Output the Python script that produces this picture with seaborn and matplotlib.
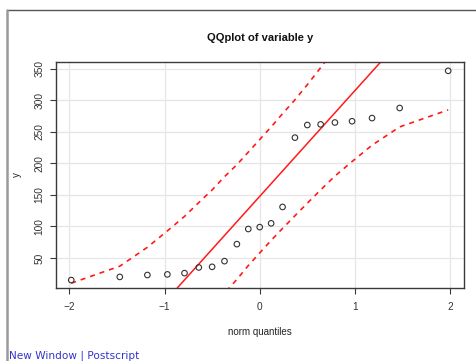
import matplotlib
matplotlib.use("Agg")
import matplotlib.pyplot as plt
from matplotlib.lines import Line2D
import seaborn as sns
import pandas as pd

# ---- data ----
theo_q = [-1.98, -1.47, -1.18, -0.97, -0.79, -0.64, -0.50, -0.37, -0.24, -0.12, 0.0,
          0.12, 0.24, 0.37, 0.50, 0.64, 0.79, 0.97, 1.18, 1.47, 1.98]
sample_y = [15, 20, 23, 24, 26, 35, 36, 45, 72, 96, 99,
            105, 131, 241, 261, 262, 265, 267, 272, 288, 347]
env_upper = [10, 37, 67, 93, 116, 138, 158, 179, 198, 218, 238,
             258, 279, 301, 325, 352, 382, 417, 463, 529, 675]
env_lower = [-380, -234, -167, -122, -86, -56, -30, -6, 16, 38, 58,
             78, 97, 117, 137, 158, 180, 203, 229, 258, 285]
line_intercept = 147.8
line_slope = 167.8
x_ticks = [-2, -1, 0, 1, 2]
y_ticks = [50, 100, 150, 200, 250, 300, 350]
title = "QQplot of variable y"
x_label = "norm quantiles"
y_label = "y"

df = pd.DataFrame({"q": theo_q, "y": sample_y, "up": env_upper, "lo": env_lower})

sns.set_style("white")
plt.rcParams["font.family"] = ["Liberation Sans", "DejaVu Sans"]

W, H = 476, 361
fig = plt.figure(figsize=(W / 100, H / 100), dpi=100)
ax = fig.add_axes([56 / W, 1 - 288 / H, (464 - 56) / W, (288 - 62) / H])

# grid
for xv in x_ticks:
    ax.axvline(xv, color="#e6e6e6", lw=0.9, zorder=0)
for yv in y_ticks:
    ax.axhline(yv, color="#e6e6e6", lw=0.9, zorder=0)

# envelope
sns.lineplot(data=df, x="q", y="up", ax=ax, color="#ff1a1a", lw=1.2,
             linestyle=(0, (3, 3)), sort=False, estimator=None, zorder=2)
sns.lineplot(data=df, x="q", y="lo", ax=ax, color="#ff1a1a", lw=1.2,
             linestyle=(0, (3, 3)), sort=False, estimator=None, zorder=2)
# reference line
ax.axline((0, line_intercept), slope=line_slope, color="#ff1a1a", lw=1.1, zorder=2)

# points
sns.scatterplot(data=df, x="q", y="y", ax=ax, marker="o", s=16,
                facecolor="none", edgecolor="#333333", linewidth=0.8, zorder=3)

ax.set_xlim(-2.14, 2.146)
ax.set_ylim(2.4, 361)
ax.set_xticks(x_ticks)
ax.set_yticks(y_ticks)
ax.set_xticklabels(["\u2212" + str(abs(v)) if v < 0 else str(v) for v in x_ticks])
ax.set_yticklabels([str(v) for v in y_ticks])

for s in ax.spines.values():
    s.set_color("#3a3a3a")
    s.set_linewidth(1.0)

ax.tick_params(axis="both", which="major", direction="out", length=4.6, width=0.8,
               color="#3a3a3a", labelsize=7.3, labelcolor="#333333")
ax.tick_params(axis="x", pad=5.5, bottom=True)
ax.tick_params(axis="y", pad=3.5, left=True)
for lab in ax.get_yticklabels():
    lab.set_rotation(90)
    lab.set_va("center")
    lab.set_ha("right")

ax.set_xlabel(x_label, fontsize=7, color="#222222")
ax.set_ylabel(y_label, fontsize=7, color="#222222")
ax.xaxis.set_label_coords(0.5, (288 - 331.7) / 226)
ax.xaxis.label.set_va("center")
ax.yaxis.set_label_coords((17.3 - 56) / 408, 0.5)
ax.yaxis.label.set_va("center")

ax.text(0.5, (288 - 38) / 226, title, transform=ax.transAxes, ha="center",
        va="center", fontsize=8, fontweight="bold", color="#111111")

# page frame (screenshot border)
fig.add_artist(Line2D([6.5 / W, 1.0], [1 - 10 / H, 1 - 10 / H], transform=fig.transFigure,
                      color="#555555", lw=1.0))
fig.add_artist(Line2D([7 / W, 7 / W], [0, 1 - 10 / H], transform=fig.transFigure,
                      color="#9a9a9a", lw=1.8))

fig.text(9 / W, 2.5 / H, "New Window | Postscript", fontsize=7.6, color="#3535c8",
         family="DejaVu Sans", ha="left", va="baseline")

fig.savefig("out.png", dpi=100)
